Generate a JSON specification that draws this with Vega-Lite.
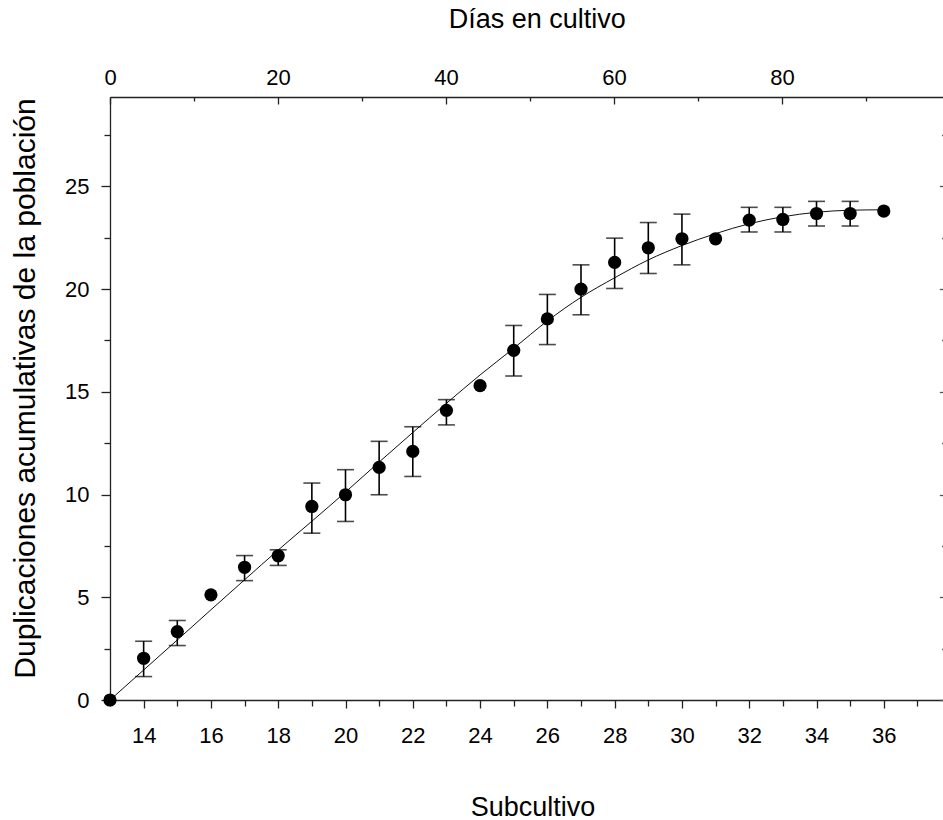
{
  "$schema": "https://vega.github.io/schema/vega-lite/v6.json",
  "width": 833,
  "height": 603,
  "autosize": "none",
  "padding": {"left": 110, "top": 97, "right": 0, "bottom": 120},
  "background": "white",
  "config": {
    "view": {"stroke": null},
    "axis": {
      "grid": false,
      "labelFont": "Liberation Sans",
      "titleFont": "Liberation Sans",
      "labelColor": "#000",
      "titleColor": "#000",
      "titleFontWeight": "normal",
      "labelFontSize": 22,
      "titleFontSize": 27,
      "domainColor": "#222",
      "domainWidth": 1.3,
      "tickColor": "#222",
      "tickWidth": 1.3,
      "labelFlush": false,
      "labelOverlap": false,
      "labelBound": false
    }
  },
  "datasets": {
    "pts": [
      {"sub": 13, "days": 0, "dup": 0, "lo": null, "hi": null},
      {"sub": 14, "days": 4, "dup": 2.03, "lo": 1.14, "hi": 2.86},
      {"sub": 15, "days": 8, "dup": 3.33, "lo": 2.65, "hi": 3.87},
      {"sub": 16, "days": 12, "dup": 5.12, "lo": null, "hi": null},
      {"sub": 17, "days": 16, "dup": 6.46, "lo": 5.81, "hi": 7.03},
      {"sub": 18, "days": 20, "dup": 7.02, "lo": 6.55, "hi": 7.31},
      {"sub": 19, "days": 24, "dup": 9.42, "lo": 8.12, "hi": 10.56},
      {"sub": 20, "days": 28, "dup": 9.99, "lo": 8.69, "hi": 11.21},
      {"sub": 21, "days": 32, "dup": 11.32, "lo": 9.99, "hi": 12.59},
      {"sub": 22, "days": 36, "dup": 12.10, "lo": 10.88, "hi": 13.30},
      {"sub": 23, "days": 40, "dup": 14.10, "lo": 13.39, "hi": 14.62},
      {"sub": 24, "days": 44, "dup": 15.30, "lo": null, "hi": null},
      {"sub": 25, "days": 48, "dup": 17.02, "lo": 15.77, "hi": 18.23},
      {"sub": 26, "days": 52, "dup": 18.55, "lo": 17.30, "hi": 19.74},
      {"sub": 27, "days": 56, "dup": 20.00, "lo": 18.75, "hi": 21.18},
      {"sub": 28, "days": 60, "dup": 21.30, "lo": 20.03, "hi": 22.48},
      {"sub": 29, "days": 64, "dup": 22.01, "lo": 20.76, "hi": 23.24},
      {"sub": 30, "days": 68, "dup": 22.45, "lo": 21.18, "hi": 23.65},
      {"sub": 31, "days": 72, "dup": 22.45, "lo": null, "hi": null},
      {"sub": 32, "days": 76, "dup": 23.36, "lo": 22.78, "hi": 23.98},
      {"sub": 33, "days": 80, "dup": 23.39, "lo": 22.78, "hi": 23.98},
      {"sub": 34, "days": 84, "dup": 23.68, "lo": 23.07, "hi": 24.27},
      {"sub": 35, "days": 88, "dup": 23.68, "lo": 23.07, "hi": 24.27},
      {"sub": 36, "days": 92, "dup": 23.80, "lo": null, "hi": null}
    ],
    "fit": [
      {"sub": 13, "fit": 0},
      {"sub": 14, "fit": 1.46},
      {"sub": 15, "fit": 2.92},
      {"sub": 16, "fit": 4.39},
      {"sub": 17, "fit": 5.85},
      {"sub": 18, "fit": 7.30},
      {"sub": 19, "fit": 8.70},
      {"sub": 20, "fit": 10.12},
      {"sub": 21, "fit": 11.58},
      {"sub": 22, "fit": 13.02},
      {"sub": 23, "fit": 14.44},
      {"sub": 24, "fit": 15.82},
      {"sub": 25, "fit": 17.12},
      {"sub": 26, "fit": 18.45},
      {"sub": 27, "fit": 19.60},
      {"sub": 28, "fit": 20.55},
      {"sub": 29, "fit": 21.42},
      {"sub": 30, "fit": 22.12},
      {"sub": 31, "fit": 22.70},
      {"sub": 32, "fit": 23.18},
      {"sub": 33, "fit": 23.52},
      {"sub": 34, "fit": 23.74},
      {"sub": 35, "fit": 23.84},
      {"sub": 36, "fit": 23.86}
    ]
  },
  "layer": [
    {
      "data": {"name": "fit"},
      "mark": {"type": "line", "color": "#111", "strokeWidth": 1, "interpolate": "monotone"},
      "encoding": {
        "x": {"field": "sub", "type": "quantitative", "scale": {"domain": [13, 37.76], "nice": false, "zero": false}, "axis": null},
        "y": {"field": "fit", "type": "quantitative", "scale": {"domain": [0, 29.35], "nice": false, "zero": false}, "axis": null}
      }
    },
    {
      "data": {"name": "pts"},
      "transform": [{"filter": "datum.lo != null"}],
      "mark": {"type": "rule", "color": "#000", "strokeWidth": 1.6},
      "encoding": {
        "x": {"field": "sub", "type": "quantitative", "scale": {"domain": [13, 37.76], "nice": false, "zero": false}, "axis": null},
        "y": {"field": "lo", "type": "quantitative", "scale": {"domain": [0, 29.35], "nice": false, "zero": false}, "axis": null},
        "y2": {"field": "hi"}
      }
    },
    {
      "data": {"name": "pts"},
      "transform": [{"filter": "datum.lo != null"}],
      "mark": {"type": "tick", "color": "#000", "orient": "horizontal", "size": 17, "thickness": 1.6},
      "encoding": {
        "x": {"field": "sub", "type": "quantitative", "scale": {"domain": [13, 37.76], "nice": false, "zero": false}, "axis": null},
        "y": {"field": "lo", "type": "quantitative", "scale": {"domain": [0, 29.35], "nice": false, "zero": false}, "axis": null}
      }
    },
    {
      "data": {"name": "pts"},
      "transform": [{"filter": "datum.hi != null"}],
      "mark": {"type": "tick", "color": "#000", "orient": "horizontal", "size": 17, "thickness": 1.6},
      "encoding": {
        "x": {"field": "sub", "type": "quantitative", "scale": {"domain": [13, 37.76], "nice": false, "zero": false}, "axis": null},
        "y": {"field": "hi", "type": "quantitative", "scale": {"domain": [0, 29.35], "nice": false, "zero": false}, "axis": null}
      }
    },
    {
      "data": {"name": "pts"},
      "mark": {"type": "point", "filled": true, "color": "#000", "opacity": 1, "size": 175, "shape": "circle"},
      "encoding": {
        "x": {
          "field": "sub", "type": "quantitative",
          "scale": {"domain": [13, 37.76], "nice": false, "zero": false},
          "axis": {
            "orient": "bottom",
            "title": "Subcultivo",
            "values": [13, 14, 15, 16, 17, 18, 19, 20, 21, 22, 23, 24, 25, 26, 27, 28, 29, 30, 31, 32, 33, 34, 35, 36, 37],
            "labelExpr": "datum.value % 2 === 0 ? datum.label : ''",
            "tickSize": {"condition": {"test": "datum.value % 2 === 0", "value": 8}, "value": 6},
            "labelBaseline": "alphabetic",
            "labelPadding": 34,
            "titleX": 422.5,
            "titleY": 115,
            "titleAlign": "center",
            "titleBaseline": "alphabetic"
          }
        },
        "y": {
          "field": "dup", "type": "quantitative",
          "scale": {"domain": [0, 29.35], "nice": false, "zero": false},
          "axis": {
            "orient": "left",
            "title": "Duplicaciones acumulativas de la población",
            "titleFontSize": 30,
            "values": [0, 2.5, 5, 7.5, 10, 12.5, 15, 17.5, 20, 22.5, 25, 27.5],
            "labelExpr": "datum.value % 5 === 0 ? datum.label : ''",
            "tickSize": {"condition": {"test": "datum.value % 5 === 0", "value": 9}, "value": 6},
            "labelPadding": 12,
            "labelBaseline": "middle",
            "titleX": -76,
            "titleY": 291,
            "titleAngle": 270,
            "titleAlign": "center",
            "titleBaseline": "alphabetic"
          }
        }
      }
    },
    {
      "data": {"name": "pts"},
      "mark": {"type": "point", "opacity": 0},
      "encoding": {
        "x": {
          "field": "days", "type": "quantitative",
          "scale": {"domain": [0, 99.17], "nice": false, "zero": false},
          "axis": {
            "orient": "top",
            "title": "Días en cultivo",
            "values": [0, 10, 20, 30, 40, 50, 60, 70, 80, 90],
            "labelExpr": "datum.value % 20 === 0 ? datum.label : ''",
            "tickSize": {"condition": {"test": "datum.value % 20 === 0", "value": -7}, "value": -4},
            "labelBaseline": "alphabetic",
            "labelPadding": 19.5,
            "titleX": 426.7,
            "titleY": -70,
            "titleAlign": "center",
            "titleBaseline": "alphabetic"
          }
        },
        "y": {
          "field": "dup", "type": "quantitative",
          "scale": {"domain": [0, 29.35], "nice": false, "zero": false},
          "axis": {
            "orient": "right",
            "title": null,
            "labels": false,
            "domain": false,
            "values": [0, 2.5, 5, 7.5, 10, 12.5, 15, 17.5, 20, 22.5, 25, 27.5],
            "tickSize": {"condition": {"test": "datum.value % 5 === 0", "value": -3.7}, "value": -1.5},
            "tickColor": "#555"
          }
        }
      }
    }
  ],
  "resolve": {"scale": {"x": "independent", "y": "independent"}}
}
